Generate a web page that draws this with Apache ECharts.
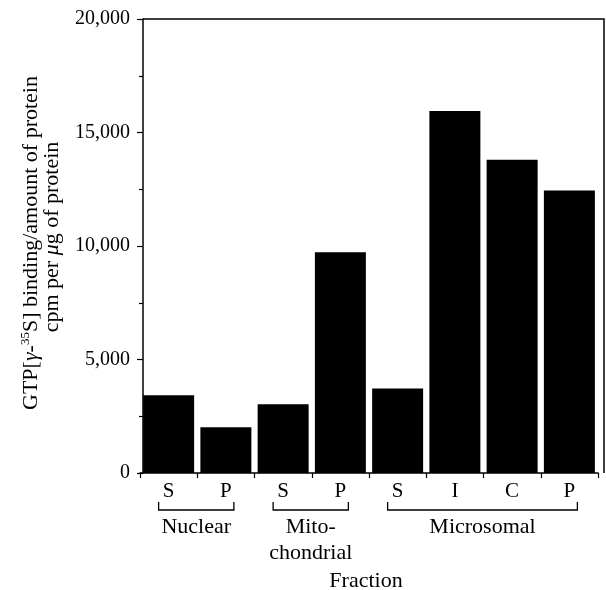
<!DOCTYPE html>
<html>
<head>
<meta charset="utf-8">
<script src="https://cdn.jsdelivr.net/npm/echarts@6/dist/echarts.min.js"></script>
<style>
  html, body { margin: 0; padding: 0; background: #fff; }
  #chart { width: 606px; height: 590px; }
</style>
</head>
<body>
<div id="chart"></div>
<script>
// fractions, in the order of the bars
const categories = ['S', 'P', 'S', 'P', 'S', 'I', 'C', 'P']
const binding = [3430, 2010, 3030, 9720, 3720, 15950, 13800, 12440]

// groups of bars under the axis
const groupNames = ['Nuclear', 'Mito-\nchondrial', 'Microsomal']
const groupFirst = [0, 2, 4]
const groupLast = [1, 3, 7]

const yTicks = [0, 5000, 10000, 15000, 20000]

const font = 'Liberation Serif, Times New Roman, serif'
const ink = '#000'

const chart = echarts.init(document.getElementById('chart'))

chart.setOption({
  animation: false,
  grid: { left: 140, right: 8, top: 19, bottom: 117 },
  xAxis: {
    type: 'category',
    data: categories,
    axisLine: { lineStyle: { color: ink, width: 1.5 } },
    axisTick: { show: true, length: 5, lineStyle: { color: ink, width: 1.2 } },
    axisLabel: { color: ink, fontFamily: font, fontSize: 21, margin: 8 }
  },
  yAxis: {
    type: 'value',
    min: yTicks[0],
    max: yTicks[yTicks.length - 1],
    interval: 5000,
    offset: -3,
    axisLine: { show: true, lineStyle: { color: ink, width: 1.5 } },
    axisTick: { show: true, length: 6, lineStyle: { color: ink, width: 1.2 } },
    minorTick: { show: true, splitNumber: 2, length: 4, lineStyle: { color: ink, width: 1.2 } },
    splitLine: { show: false },
    axisLabel: {
      color: ink,
      fontFamily: font,
      fontSize: 20,
      margin: 13,
      formatter: v => v.toLocaleString('en-US')
    }
  },
  series: [{
    type: 'bar',
    data: binding,
    barWidth: 51,
    itemStyle: { color: ink }
  }]
})

// brackets, group names, axis titles and the frame
const drawExtras = () => {
  const px = i => chart.convertToPixel({ xAxisIndex: 0 }, i)
  const top = chart.convertToPixel({ yAxisIndex: 0 }, yTicks[yTicks.length - 1])
  const base = chart.convertToPixel({ yAxisIndex: 0 }, 0)
  const elements = []

  groupNames.forEach((name, g) => {
    const x1 = px(groupFirst[g]) - 10
    const x2 = px(groupLast[g]) + 8
    elements.push({
      type: 'polyline',
      shape: { points: [[x1, 502], [x1, 510], [x2, 510], [x2, 502]] },
      style: { stroke: ink, lineWidth: 1.3, fill: null }
    })
    elements.push({
      type: 'text',
      x: (x1 + x2) / 2,
      y: 514,
      style: {
        text: name,
        fill: ink,
        font: '22px ' + font,
        textAlign: 'center',
        textVerticalAlign: 'top',
        lineHeight: 26
      }
    })
  })

  elements.push({
    type: 'text',
    x: 366,
    y: 581,
    style: { text: 'Fraction', fill: ink, font: '22px ' + font, textAlign: 'center', textVerticalAlign: 'middle' }
  })

  elements.push({
    type: 'text',
    x: 31,
    y: 243,
    rotation: Math.PI / 2,
    style: {
      text: 'GTP[{it|γ}-{sup|35}S] binding/amount of protein',
      fill: ink,
      font: '22px ' + font,
      textAlign: 'center',
      textVerticalAlign: 'middle',
      rich: {
        it: { fontFamily: font, fontSize: 22, fontStyle: 'italic', fill: ink },
        sup: { fontFamily: font, fontSize: 13, fill: ink, verticalAlign: 'top', padding: [0, 0, 11, 0] }
      }
    }
  })
  elements.push({
    type: 'text',
    x: 52,
    y: 237,
    rotation: Math.PI / 2,
    style: {
      text: 'cpm per {it|μ}g of protein',
      fill: ink,
      font: '22px ' + font,
      textAlign: 'center',
      textVerticalAlign: 'middle',
      rich: {
        it: { fontFamily: font, fontSize: 22, fontStyle: 'italic', fill: ink }
      }
    }
  })

  // top and right edges of the frame
  elements.push({
    type: 'polyline',
    shape: { points: [[143, top], [604, top], [604, base]] },
    style: { stroke: ink, lineWidth: 1.5, fill: null }
  })

  chart.setOption({ graphic: elements })
}

drawExtras()
</script>
</body>
</html>
